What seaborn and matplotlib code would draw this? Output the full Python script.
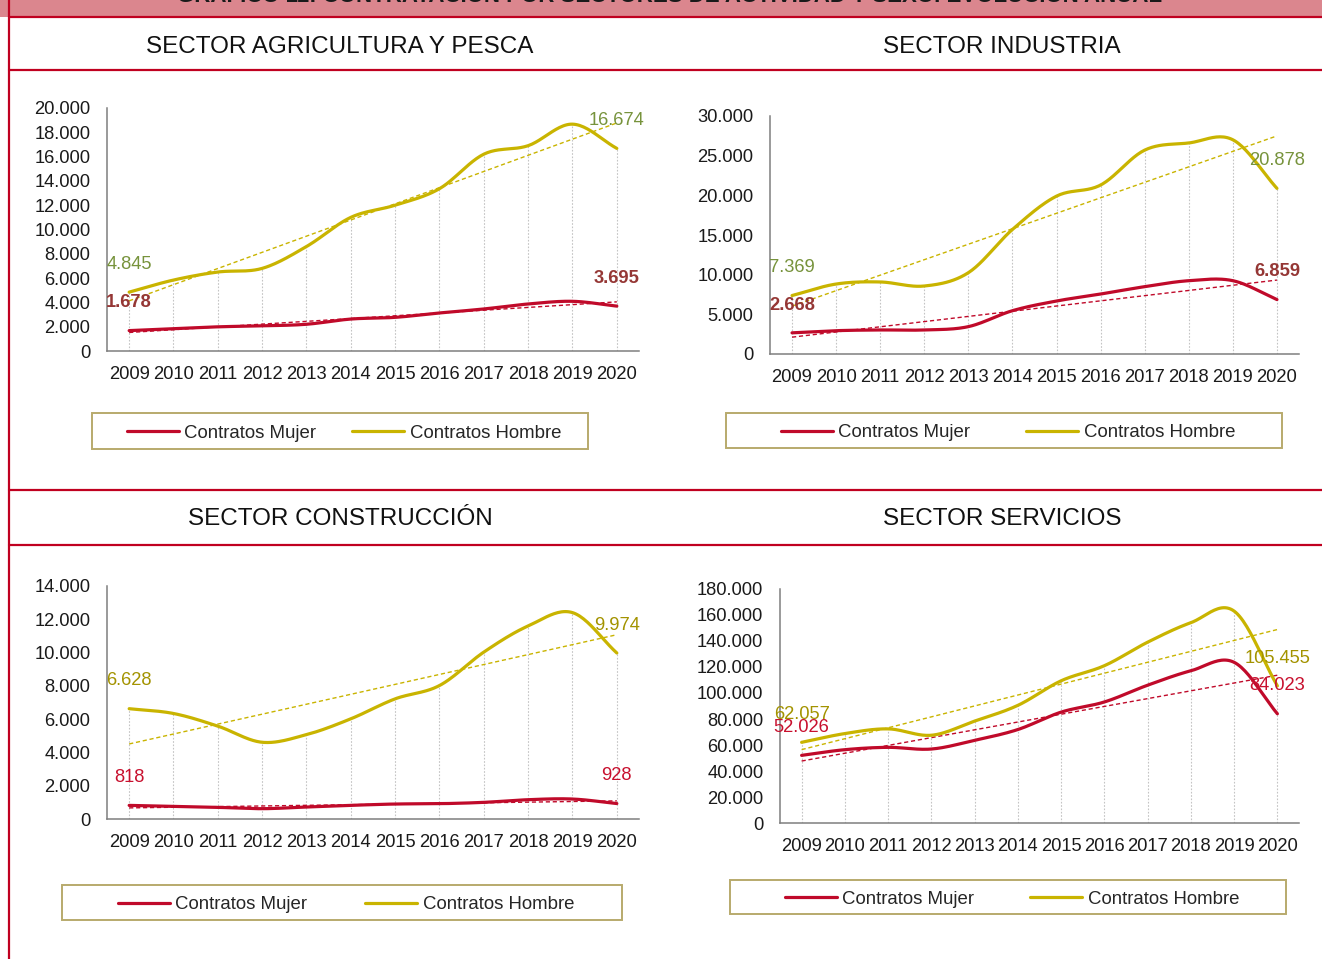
import numpy as np
import pandas as pd
import matplotlib
matplotlib.use("Agg")
import matplotlib.pyplot as plt
from matplotlib.lines import Line2D
from matplotlib.patches import Rectangle
from matplotlib.ticker import FuncFormatter, MultipleLocator
import seaborn as sns

# data
years = list(range(2009, 2021))

agri_mujer = [1678, 1830, 1990, 2070, 2200, 2630, 2770, 3130, 3460, 3870, 4090, 3695]
agri_hombre = [4845, 5840, 6500, 6800, 8600, 11000, 12000, 13360, 16200, 16900, 18670, 16674]
ind_mujer = [2668, 2940, 3030, 3030, 3450, 5460, 6680, 7560, 8490, 9240, 9240, 6859]
ind_hombre = [7369, 8820, 9080, 8570, 10250, 15700, 19900, 21300, 25700, 26600, 27000, 20878]
cons_mujer = [818, 760, 700, 620, 720, 820, 900, 920, 1000, 1160, 1200, 928]
cons_hombre = [6628, 6340, 5580, 4610, 5070, 6020, 7220, 8020, 10030, 11600, 12400, 9974]
serv_mujer = [52026, 56400, 58200, 56900, 63600, 71900, 85300, 93100, 106000, 117100, 123600, 84023]
serv_hombre = [62057, 68800, 72400, 67500, 78400, 90500, 109400, 121000, 139100, 154100, 163000, 105455]

titles = ["SECTOR AGRICULTURA Y PESCA", "SECTOR INDUSTRIA", "SECTOR CONSTRUCCIÓN", "SECTOR SERVICIOS"]
banner = "GRÁFICO 11: CONTRATACIÓN POR SECTORES DE ACTIVIDAD Y SEXO. EVOLUCIÓN ANUAL"
series_names = ["Contratos Mujer", "Contratos Hombre"]

RED = "#C00A2A"
YEL = "#C9B400"
FRAME = "#C00020"
W, H = 1322, 959

sns.set_theme(style="white")
plt.rcParams["font.family"] = ["Liberation Sans", "DejaVu Sans"]

fig = plt.figure(figsize=(W / 100, H / 100), dpi=100)


def px_rect(left, top, right, bottom):
    return [left / W, 1 - bottom / H, (right - left) / W, (bottom - top) / H]


def smooth(x, y, n=24):
    # Catmull-Rom style smoothing, similar to Excel's smoothed lines
    x = np.asarray(x, float)
    y = np.asarray(y, float)
    m = np.gradient(y, x)
    xs, ys = [], []
    for i in range(len(x) - 1):
        t = np.linspace(0, 1, n, endpoint=False)
        h = x[i + 1] - x[i]
        h00 = 2 * t**3 - 3 * t**2 + 1
        h10 = t**3 - 2 * t**2 + t
        h01 = -2 * t**3 + 3 * t**2
        h11 = t**3 - t**2
        ys.append(h00 * y[i] + h10 * h * m[i] + h01 * y[i + 1] + h11 * h * m[i + 1])
        xs.append(x[i] + t * h)
    xs.append([x[-1]])
    ys.append([y[-1]])
    return np.concatenate(xs), np.concatenate(ys)


def thousands(v, _=None):
    return f"{int(round(v)):,}".replace(",", ".")


panels = [
    # mujer, hombre, ymax, step, axes px, title px, legend box px, legend content span px,
    # label colours (mujer, hombre), bold mujer label
    (agri_mujer, agri_hombre, 20000, 2000, (107, 108, 639, 351), (340, 47), (92, 413, 588, 449), (127, 561),
     ("#953735", "#77933C"), True),
    (ind_mujer, ind_hombre, 30000, 5000, (770, 116, 1299, 354), (1002, 47), (726, 413, 1282, 448), (781, 1235),
     ("#953735", "#77933C"), True),
    (cons_mujer, cons_hombre, 14000, 2000, (107, 586, 639, 819), (340, 519), (62, 885, 622, 920), (118, 574),
     ("#C8102E", "#A39300"), False),
    (serv_mujer, serv_hombre, 180000, 20000, (780, 589, 1299, 823), (1002, 519), (730, 880, 1286, 914), (785, 1239),
     ("#C8102E", "#A39300"), False),
]

for title, (mujer, hombre, ymax, step, arect, tpos, lbox, lspan, lcols, bold) in zip(titles, panels):
    ax = fig.add_axes(px_rect(*arect))
    top = np.maximum(mujer, hombre)
    ax.vlines(years, 0, top, colors="#C4C4C4", linestyles=(0, (1.5, 1.5)), lw=0.8, zorder=1)

    for vals, col in [(mujer, RED), (hombre, YEL)]:
        xs, ys = smooth(years, vals)
        df = pd.DataFrame({"year": xs, "value": ys})
        sns.lineplot(data=df, x="year", y="value", ax=ax, color=col, lw=2.3, zorder=3, sort=False)
        sns.regplot(x=np.array(years, float), y=np.array(vals, float), ax=ax, scatter=False, ci=None,
                    truncate=True, line_kws=dict(color=col, lw=1.0, ls=(0, (3, 2)), zorder=2))

    for vals, col, b in [(mujer, lcols[0], bold), (hombre, lcols[1], False)]:
        for i in (0, -1):
            ax.annotate(thousands(vals[i]), (years[i], vals[i]), xytext=(0, 20), textcoords="offset points",
                        ha="center", va="center", fontsize=13.2, color=col,
                        fontweight="bold" if b else "normal", zorder=5)

    ax.set_xlim(2008.5, 2020.5)
    ax.set_ylim(0, ymax)
    ax.yaxis.set_major_locator(MultipleLocator(step))
    ax.yaxis.set_major_formatter(FuncFormatter(thousands))
    ax.set_xticks(years)
    ax.set_xticklabels([str(y) for y in years])
    ax.tick_params(axis="both", length=0, labelsize=13.2, colors="#1A1A1A")
    ax.tick_params(axis="y", pad=12)
    ax.tick_params(axis="x", pad=11)
    ax.set_xlabel("")
    ax.set_ylabel("")
    ax.patch.set_alpha(0)
    for s in ["top", "right"]:
        ax.spines[s].set_visible(False)
    for s in ["left", "bottom"]:
        ax.spines[s].set_color("#7F7F7F")
        ax.spines[s].set_linewidth(1.1)

    fig.text(tpos[0] / W, 1 - tpos[1] / H, title, ha="center", va="center", fontsize=17.5, color="#111111")

    # legend with its own frame
    x0, y0, x1, y1 = lbox
    fig.add_artist(Rectangle((x0 / W, 1 - y1 / H), (x1 - x0) / W, (y1 - y0) / H, transform=fig.transFigure,
                             facecolor="white", edgecolor="#B8AA6C", lw=1.4, zorder=0))
    handles = [Line2D([], [], color=RED, lw=2.3), Line2D([], [], color=YEL, lw=2.3)]
    fig.legend(handles, series_names, loc="center", ncol=2, mode="expand", frameon=False,
               bbox_to_anchor=(lspan[0] / W, 1 - (y1 + 2) / H, (lspan[1] - lspan[0]) / W, (y1 - y0) / H),
               bbox_transform=fig.transFigure, fontsize=13.4, handlelength=2.8, handletextpad=0.27,
               borderpad=0, borderaxespad=0)

# page frame: banner, red rules and left border
fig.add_artist(Rectangle((0, 1 - 17 / H), 1, 17 / H, transform=fig.transFigure, facecolor="#DB868E",
                         edgecolor="none", zorder=0))
fig.text(670 / W, 1 + 4 / H, banner, ha="center", va="center", fontsize=16, fontweight="bold", color="#1A1A1A")
for yy in (17, 70, 490, 545):
    fig.add_artist(Line2D([9 / W, 1], [1 - yy / H, 1 - yy / H], transform=fig.transFigure, color=FRAME, lw=1.6))
fig.add_artist(Line2D([9 / W, 9 / W], [0, 1], transform=fig.transFigure, color=FRAME, lw=1.6))

fig.savefig("out.png", dpi=100)
